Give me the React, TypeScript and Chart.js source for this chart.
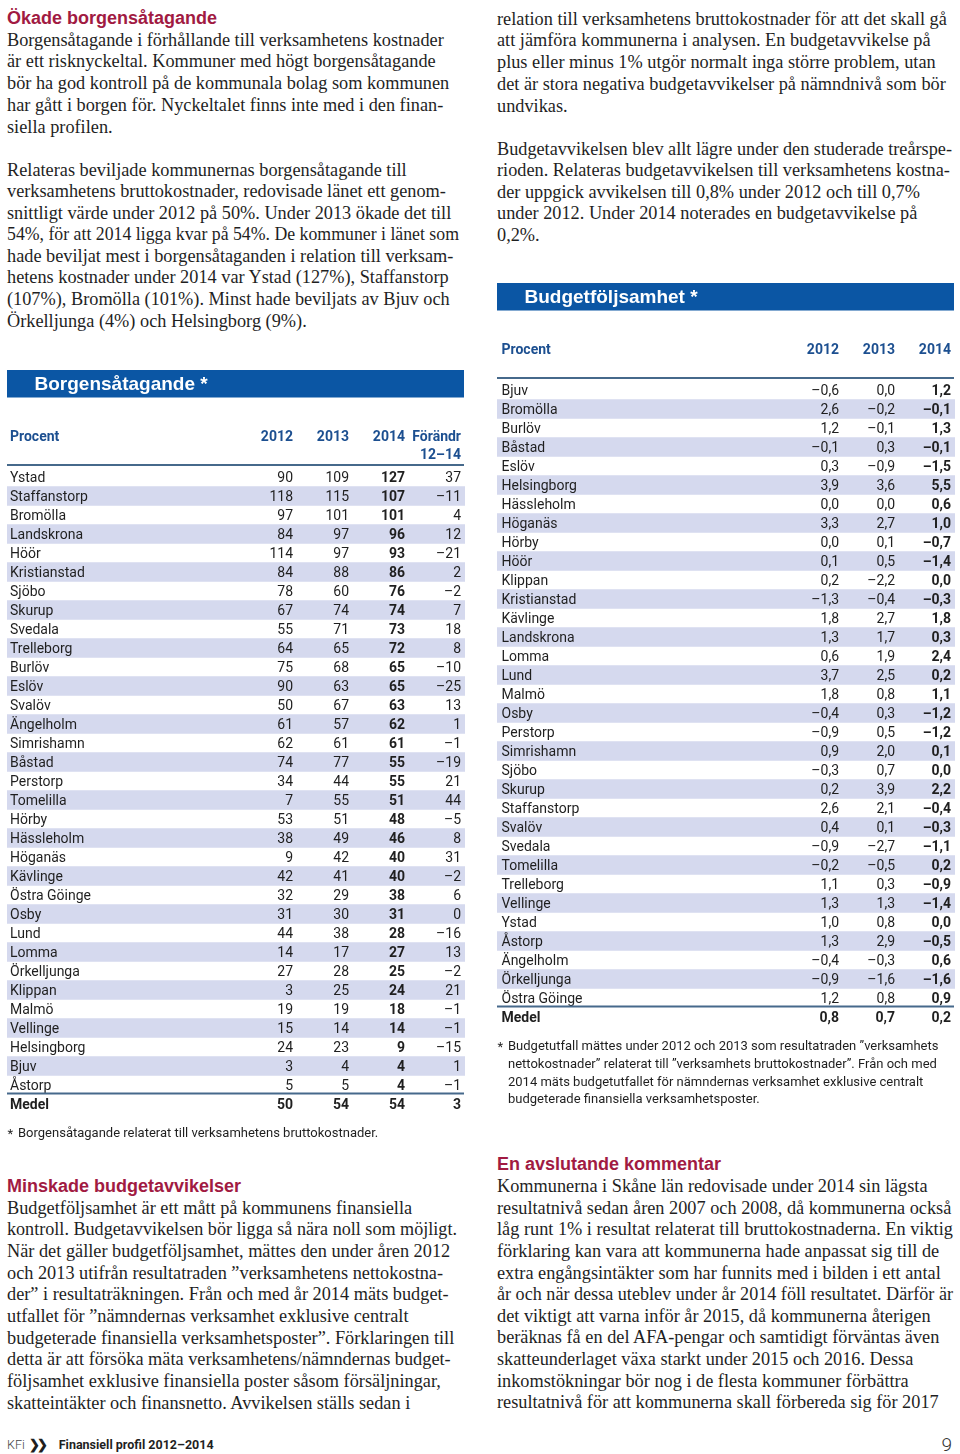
import React, { useEffect, useLayoutEffect, useRef } from 'react';
import { Chart, registerables } from 'chart.js';

Chart.register(...registerables);

// ---------------- Data ----------------
const borgenKommuner = ['Ystad', 'Staffanstorp', 'Bromölla', 'Landskrona', 'Höör', 'Kristianstad', 'Sjöbo', 'Skurup', 'Svedala', 'Trelleborg', 'Burlöv', 'Eslöv', 'Svalöv', 'Ängelholm', 'Simrishamn', 'Båstad', 'Perstorp', 'Tomelilla', 'Hörby', 'Hässleholm', 'Höganäs', 'Kävlinge', 'Östra Göinge', 'Osby', 'Lund', 'Lomma', 'Örkelljunga', 'Klippan', 'Malmö', 'Vellinge', 'Helsingborg', 'Bjuv', 'Åstorp'];
const borgen2012 = [90, 118, 97, 84, 114, 84, 78, 67, 55, 64, 75, 90, 50, 61, 62, 74, 34, 7, 53, 38, 9, 42, 32, 31, 44, 14, 27, 3, 19, 15, 24, 3, 5];
const borgen2013 = [109, 115, 101, 97, 97, 88, 60, 74, 71, 65, 68, 63, 67, 57, 61, 77, 44, 55, 51, 49, 42, 41, 29, 30, 38, 17, 28, 25, 19, 14, 23, 4, 5];
const borgen2014 = [127, 107, 101, 96, 93, 86, 76, 74, 73, 72, 65, 65, 63, 62, 61, 55, 55, 51, 48, 46, 40, 40, 38, 31, 28, 27, 25, 24, 18, 14, 9, 4, 4];
const borgenForandring = [37, -11, 4, 12, -21, 2, -2, 7, 18, 8, -10, -25, 13, 1, -1, -19, 21, 44, -5, 8, 31, -2, 6, 0, -16, 13, -2, 21, -1, -1, -15, 1, -1];
const borgenMedel = [50, 54, 54, 3];
const borgenRubriker = ['2012', '2013', '2014', 'Förändr'];
const borgenRubriker2 = ['', '', '', '12–14'];

const budgetKommuner = ['Bjuv', 'Bromölla', 'Burlöv', 'Båstad', 'Eslöv', 'Helsingborg', 'Hässleholm', 'Höganäs', 'Hörby', 'Höör', 'Klippan', 'Kristianstad', 'Kävlinge', 'Landskrona', 'Lomma', 'Lund', 'Malmö', 'Osby', 'Perstorp', 'Simrishamn', 'Sjöbo', 'Skurup', 'Staffanstorp', 'Svalöv', 'Svedala', 'Tomelilla', 'Trelleborg', 'Vellinge', 'Ystad', 'Åstorp', 'Ängelholm', 'Örkelljunga', 'Östra Göinge'];
const budget2012 = [-0.6, 2.6, 1.2, -0.1, 0.3, 3.9, 0.0, 3.3, 0.0, 0.1, 0.2, -1.3, 1.8, 1.3, 0.6, 3.7, 1.8, -0.4, -0.9, 0.9, -0.3, 0.2, 2.6, 0.4, -0.9, -0.2, 1.1, 1.3, 1.0, 1.3, -0.4, -0.9, 1.2];
const budget2013 = [0.0, -0.2, -0.1, 0.3, -0.9, 3.6, 0.0, 2.7, 0.1, 0.5, -2.2, -0.4, 2.7, 1.7, 1.9, 2.5, 0.8, 0.3, 0.5, 2.0, 0.7, 3.9, 2.1, 0.1, -2.7, -0.5, 0.3, 1.3, 0.8, 2.9, -0.3, -1.6, 0.8];
const budget2014 = [1.2, -0.1, 1.3, -0.1, -1.5, 5.5, 0.6, 1.0, -0.7, -1.4, 0.0, -0.3, 1.8, 0.3, 2.4, 0.2, 1.1, -1.2, -1.2, 0.1, 0.0, 2.2, -0.4, -0.3, -1.1, 0.2, -0.9, -1.4, 0.0, -0.5, 0.6, -1.6, 0.9];
const budgetMedel = [0.8, 0.7, 0.2];
const budgetRubriker = ['2012', '2013', '2014'];
const budgetRubriker2 = ['', '', ''];

// ---------------- Texts ----------------
const textVansterRubrik = 'Ökade borgensåtagande';
const textVanster1 = [
  'Borgensåtagande i förhållande till verksamhetens kostnader',
  'är ett risknyckeltal. Kommuner med högt borgensåtagande',
  'bör ha god kontroll på de kommunala bolag som kommunen',
  'har gått i borgen för. Nyckeltalet finns inte med i den finan-',
  'siella profilen.',
];
const textVanster2 = [
  'Relateras beviljade kommunernas borgensåtagande till',
  'verksamhetens bruttokostnader, redovisade länet ett genom-',
  'snittligt värde under 2012 på 50%. Under 2013 ökade det till',
  '54%, för att 2014 ligga kvar på 54%. De kommuner i länet som',
  'hade beviljat mest i borgensåtaganden i relation till verksam-',
  'hetens kostnader under 2014 var Ystad (127%), Staffanstorp',
  '(107%), Bromölla (101%). Minst hade beviljats av Bjuv och',
  'Örkelljunga (4%) och Helsingborg (9%).',
];
const textHoger1 = [
  'relation till verksamhetens bruttokostnader för att det skall gå',
  'att jämföra kommunerna i analysen. En budgetavvikelse på',
  'plus eller minus 1% utgör normalt inga större problem, utan',
  'det är stora negativa budgetavvikelser på nämndnivå som bör',
  'undvikas.',
];
const textHoger2 = [
  'Budgetavvikelsen blev allt lägre under den studerade treårspe-',
  'rioden. Relateras budgetavvikelsen till verksamhetens kostna-',
  'der uppgick avvikelsen till 0,8% under 2012 och till 0,7%',
  'under 2012. Under 2014 noterades en budgetavvikelse på',
  '0,2%.',
];
const textMinskadeRubrik = 'Minskade budgetavvikelser';
const textMinskade = [
  'Budgetföljsamhet är ett mått på kommunens finansiella',
  'kontroll. Budgetavvikelsen bör ligga så nära noll som möjligt.',
  'När det gäller budgetföljsamhet, mättes den under åren 2012',
  'och 2013 utifrån resultatraden ”verksamhetens nettokostna-',
  'der” i resultaträkningen. Från och med år 2014 mäts budget-',
  'utfallet för ”nämndernas verksamhet exklusive centralt',
  'budgeterade finansiella verksamhetsposter”. Förklaringen till',
  'detta är att försöka mäta verksamhetens/nämndernas budget-',
  'följsamhet exklusive finansiella poster såsom försäljningar,',
  'skatteintäkter och finansnetto. Avvikelsen ställs sedan i',
];
const textAvslutRubrik = 'En avslutande kommentar';
const textAvslut = [
  'Kommunerna i Skåne län redovisade under 2014 sin lägsta',
  'resultatnivå sedan åren 2007 och 2008, då kommunerna också',
  'låg runt 1% i resultat relaterat till bruttokostnaderna. En viktig',
  'förklaring kan vara att kommunerna hade anpassat sig till de',
  'extra engångsintäkter som har funnits med i bilden i ett antal',
  'år och när dessa uteblev under år 2014 föll resultatet. Därför är',
  'det viktigt att varna inför år 2015, då kommunerna återigen',
  'beräknas få en del AFA-pengar och samtidigt förväntas även',
  'skatteunderlaget växa starkt under 2015 och 2016. Dessa',
  'inkomstökningar bör nog i de flesta kommuner förbättra',
  'resultatnivå för att kommunerna skall förbereda sig för 2017',
];
const borgenFotnot = ['Borgensåtagande relaterat till verksamhetens bruttokostnader.'];
const budgetFotnot = [
  'Budgetutfall mättes under 2012 och 2013 som resultatraden ”verksamhets',
  'nettokostnader” relaterat till ”verksamhets bruttokostnader”. Från och med',
  '2014 mäts budgetutfallet för nämndernas verksamhet exklusive centralt',
  'budgeterade finansiella verksamhetsposter.',
];

// ---------------- Styles ----------------
const SERIF = '"Liberation Serif", "Times New Roman", serif';
const SANS = '"Liberation Sans", Arial, sans-serif';
const TABLE_FONT = 'Roboto, "Liberation Sans", sans-serif';
const RED = '#a11a42';
const TITLE_BG = '#0b56a4';
const HEAD_BLUE = '#1c4f90';
const STRIPE = '#d5d9ee';
const RULE = '#46698b';
const INK = '#1f1f1f';

const fmtInt = (v: number) => (v < 0 ? '–' + Math.abs(v) : String(v));
const fmtDec = (v: number) => (v < 0 ? '–' : '') + Math.abs(v).toFixed(1).replace('.', ',');

type TableProps = {
  left: number;
  top: number;
  width: number;
  height: number;
  title: string;
  rows: string[];
  columns: number[][];
  medel: number[];
  headers: string[];
  headers2: string[];
  decimals: boolean;
  colRights: number[];
  labelX: number;
  footnote: string[];
};

const ROW_H = 19;
const PAD_TOP = 99.5;

function TableChart(p: TableProps) {
  const ref = useRef<HTMLCanvasElement>(null);
  useEffect(() => {
    const labels = [...p.rows, 'Medel'];
    const n = labels.length;
    const fmt = p.decimals ? fmtDec : fmtInt;
    const cols = p.columns.map((c, j) => [...c, p.medel[j]]);
    const stripeData = labels.map((_, i) => (i % 2 === 1 && i < n - 1 ? [0, p.width] : null));
    const boldCol = 2;

    const plugin = {
      id: 'tableText',
      afterDatasetsDraw(chart: any) {
        const { ctx, chartArea } = chart;
        const xs = chart.scales.x;
        const ys = chart.scales.y;
        const top = chartArea.top;
        const x0 = xs.getPixelForValue(0);
        const x1 = xs.getPixelForValue(p.width - 1);
        ctx.save();
        // title bar
        ctx.fillStyle = TITLE_BG;
        ctx.fillRect(x0, top - 97.5, x1 - x0, 27.5);
        ctx.fillStyle = '#ffffff';
        ctx.font = 'bold 19px ' + SANS;
        ctx.textBaseline = 'middle';
        ctx.textAlign = 'left';
        ctx.fillText(p.title, xs.getPixelForValue(27.5), top - 83);
        // header
        ctx.fillStyle = HEAD_BLUE;
        ctx.font = 'bold 14px ' + TABLE_FONT;
        ctx.fillText('Procent', xs.getPixelForValue(p.labelX), top - 30.5);
        ctx.textAlign = 'right';
        p.headers.forEach((h, j) => ctx.fillText(h, xs.getPixelForValue(p.colRights[j]), top - 30.5));
        p.headers2.forEach((h, j) => {
          if (h) ctx.fillText(h, xs.getPixelForValue(p.colRights[j]), top - 12.5);
        });
        // header rule
        ctx.strokeStyle = RULE;
        ctx.lineWidth = 2;
        ctx.beginPath();
        ctx.moveTo(x0, top - 2.5);
        ctx.lineTo(x1, top - 2.5);
        ctx.stroke();
        // rows
        labels.forEach((lab: string, i: number) => {
          const y = ys.getPixelForValue(i) + 1;
          const isMedel = i === n - 1;
          ctx.fillStyle = INK;
          ctx.textAlign = 'left';
          ctx.font = (isMedel ? 'bold ' : '') + '14px ' + TABLE_FONT;
          ctx.fillText(lab, xs.getPixelForValue(p.labelX), y);
          ctx.textAlign = 'right';
          cols.forEach((col, j) => {
            ctx.font = (isMedel || j === boldCol ? 'bold ' : '') + '14px ' + TABLE_FONT;
            ctx.fillText(fmt(col[i]), xs.getPixelForValue(p.colRights[j]), y);
          });
        });
        // medel rule
        const yr = ys.getPixelForValue(n - 1) - ROW_H / 2 - 1;
        ctx.beginPath();
        ctx.moveTo(x0, yr);
        ctx.lineTo(x1, yr);
        ctx.stroke();
        // footnote
        ctx.fillStyle = INK;
        ctx.textAlign = 'left';
        ctx.font = '13px ' + TABLE_FONT;
        const yf = ys.getPixelForValue(n - 1) + 30;
        ctx.fillText('*', xs.getPixelForValue(0.5), yf + 1);
        p.footnote.forEach((line, k) => {
          ctx.fillText(line, xs.getPixelForValue(11), yf + k * 17.7);
        });
        ctx.restore();
      },
    };

    const chart = new Chart(ref.current as HTMLCanvasElement, {
      type: 'bar',
      data: {
        labels,
        datasets: [
          {
            data: stripeData as any,
            backgroundColor: STRIPE,
            barPercentage: 1,
            categoryPercentage: 1,
            borderWidth: 0,
          },
        ],
      },
      options: {
        indexAxis: 'y',
        animation: false,
        responsive: false,
        devicePixelRatio: 1,
        layout: { padding: { top: PAD_TOP, bottom: p.height - PAD_TOP - n * ROW_H, left: 0, right: 0 } },
        scales: {
          x: { type: 'linear', min: 0, max: p.width, display: false },
          y: { type: 'category', display: false, offset: true },
        },
        plugins: { legend: { display: false }, tooltip: { enabled: false } },
        events: [],
      },
      plugins: [plugin],
    });
    return () => chart.destroy();
  }, []);
  return (
    <canvas
      ref={ref}
      width={p.width}
      height={p.height}
      style={{ position: 'absolute', left: p.left, top: p.top, width: p.width, height: p.height }}
    />
  );
}

function FitLine(props: { text: string; maxWidth: number; style: React.CSSProperties }) {
  const ref = useRef<HTMLDivElement>(null);
  useLayoutEffect(() => {
    const el = ref.current;
    if (!el) return;
    el.style.transform = 'none';
    const w = el.getBoundingClientRect().width;
    if (w > props.maxWidth) {
      el.style.transformOrigin = 'left center';
      el.style.transform = `scaleX(${props.maxWidth / w})`;
    }
  });
  return (
    <div ref={ref} style={{ ...props.style, display: 'inline-block' }}>
      {props.text}
    </div>
  );
}

function Lines(props: { x: number; baseline: number; step: number; lines: string[]; size: number; font: string; color: string; bold?: boolean; maxWidth?: number }) {
  const { x, baseline, step, lines, size, font, color, bold, maxWidth = 456 } = props;
  return (
    <>
      {lines.map((l, i) => (
        <FitLine
          key={i}
          text={l}
          maxWidth={maxWidth}
          style={{
            position: 'absolute',
            left: x,
            top: baseline + i * step - 0.84 * size,
            fontFamily: font,
            fontSize: size,
            lineHeight: size + 'px',
            fontWeight: bold ? 700 : 400,
            color,
            whiteSpace: 'nowrap',
          }}
        />
      ))}
    </>
  );
}

const BODY = 18.3;
const STEP = 21.65;

export default function App() {
  return (
    <div style={{ position: 'absolute', left: 0, top: 0, width: 960, height: 1454, background: '#fff', overflow: 'hidden' }}>
      <Lines x={7} baseline={24.5} step={STEP} lines={[textVansterRubrik]} size={18} font={SANS} color={RED} bold />
      <Lines x={7} baseline={46} step={21.75} lines={textVanster1} size={BODY} font={SERIF} color={INK} maxWidth={452} />
      <Lines x={7} baseline={176} step={21.57} lines={textVanster2} size={BODY} font={SERIF} color={INK} maxWidth={452} />

      <Lines x={497} baseline={25} step={21.75} lines={textHoger1} size={BODY} font={SERIF} color={INK} maxWidth={455} />
      <Lines x={497} baseline={155} step={21.5} lines={textHoger2} size={BODY} font={SERIF} color={INK} maxWidth={455} />

      <TableChart
        left={7}
        top={368}
        width={458}
        height={780}
        title="Borgensåtagande *"
        rows={borgenKommuner}
        columns={[borgen2012, borgen2013, borgen2014, borgenForandring]}
        medel={borgenMedel}
        headers={borgenRubriker}
        headers2={borgenRubriker2}
        decimals={false}
        colRights={[286, 342, 398, 454]}
        labelX={3}
        footnote={borgenFotnot}
      />
      <TableChart
        left={497}
        top={281}
        width={458}
        height={840}
        title="Budgetföljsamhet *"
        rows={budgetKommuner}
        columns={[budget2012, budget2013, budget2014]}
        medel={budgetMedel}
        headers={budgetRubriker}
        headers2={budgetRubriker2}
        decimals={true}
        colRights={[342, 398, 454]}
        labelX={4.5}
        footnote={budgetFotnot}
      />

      <Lines x={7} baseline={1192.5} step={STEP} lines={[textMinskadeRubrik]} size={18} font={SANS} color={RED} bold />
      <Lines x={7} baseline={1214} step={21.67} lines={textMinskade} size={BODY} font={SERIF} color={INK} maxWidth={450} />

      <Lines x={497} baseline={1170.5} step={STEP} lines={[textAvslutRubrik]} size={18} font={SANS} color={RED} bold />
      <Lines x={497} baseline={1192.5} step={21.6} lines={textAvslut} size={BODY} font={SERIF} color={INK} maxWidth={456} />

      <div style={{ position: 'absolute', left: 7, top: 1437, fontFamily: TABLE_FONT, fontSize: 12.5, lineHeight: '16px', color: INK, whiteSpace: 'nowrap' }}>
        <span style={{ color: '#444', fontWeight: 300 }}>KFi</span>
        <span style={{ fontWeight: 900, marginLeft: 4, letterSpacing: -3 }}>❯❯</span>
        <span style={{ fontWeight: 700, marginLeft: 14 }}>Finansiell profil 2012–2014</span>
      </div>
      <div style={{ position: 'absolute', right: 8, top: 1434, fontFamily: TABLE_FONT, fontSize: 19, lineHeight: '22px', color: '#333', fontWeight: 300 }}>9</div>
    </div>
  );
}
